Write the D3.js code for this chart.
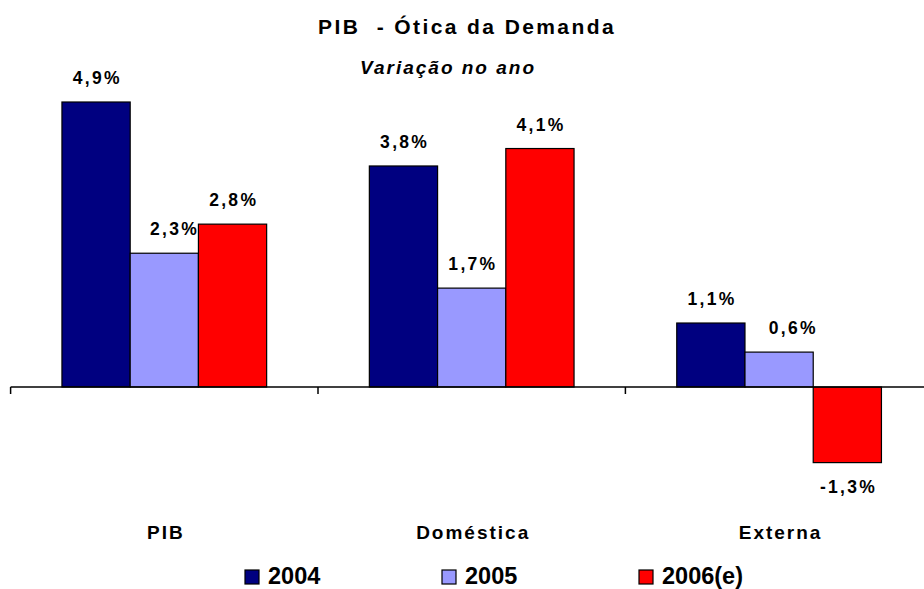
<!DOCTYPE html>
<html>
<head>
<meta charset="utf-8">
<script src="https://cdn.jsdelivr.net/npm/d3@7/dist/d3.min.js"></script>
<style>
  html, body { margin: 0; padding: 0; background: #fff; }
  svg { display: block; font-family: "Liberation Sans", Arial, sans-serif; }
</style>
</head>
<body>
<svg id="chart" width="924" height="589"></svg>
<script>
// ---- data ----
const categories = ["PIB", "Doméstica", "Externa"];
const seriesNames = ["2004", "2005", "2006(e)"];
const values2004 = [4.9, 3.8, 1.1];
const values2005 = [2.3, 1.7, 0.6];
const values2006 = [2.8, 4.1, -1.3];
const valueLabels2004 = ["4,9%", "3,8%", "1,1%"];
const valueLabels2005 = ["2,3%", "1,7%", "0,6%"];
const valueLabels2006 = ["2,8%", "4,1%", "-1,3%"];
const titleText = "PIB  - Ótica da Demanda";
const subtitleText = "Variação no ano";

// ---- styling ----
const colors = {"2004": "#000080", "2005": "#9999FF", "2006(e)": "#FF0000"};
// manual label nudges (layout only)
const labelNudge = {"PIB|2005": 9, "Externa|2005": 13};

const svg = d3.select("#chart");

const seriesValues = [values2004, values2005, values2006];
const seriesLabels = [valueLabels2004, valueLabels2005, valueLabels2006];
const data = [];
categories.forEach((c, i) => {
  seriesNames.forEach((s, j) => {
    data.push({cat: c, series: s, value: seriesValues[j][i], label: seriesLabels[j][i]});
  });
});

const x0 = d3.scaleBand().domain(categories).range([10.6, 932.8]).padding(0);
const x1 = d3.scaleBand().domain(seriesNames).range([51.35, 256.05]).padding(0);
const y = d3.scaleLinear().domain([0, 4.9]).range([387, 102]);

// title
svg.append("text")
  .attr("x", 467).attr("y", 34)
  .attr("text-anchor", "middle")
  .style("font-size", "21px").style("font-weight", "bold")
  .style("letter-spacing", "2.4px")
  .style("white-space", "pre")
  .text(titleText);

svg.append("text")
  .attr("x", 448).attr("y", 74)
  .attr("text-anchor", "middle")
  .style("font-size", "19px").style("font-weight", "bold").style("font-style", "italic")
  .style("letter-spacing", "2px")
  .text(subtitleText);

// bars
svg.append("g").selectAll("rect").data(data).join("rect")
  .attr("x", d => x0(d.cat) + x1(d.series))
  .attr("width", x1.bandwidth())
  .attr("y", d => y(Math.max(0, d.value)))
  .attr("height", d => Math.abs(y(d.value) - y(0)))
  .attr("fill", d => colors[d.series])
  .attr("stroke", "#000").attr("stroke-width", 1.2);

// axis
const axis = d3.axisBottom(x0).tickSize(0).tickFormat("");
const gAxis = svg.append("g").attr("transform", `translate(0,${y(0)})`).call(axis);
gAxis.select(".domain").remove();
svg.append("line")
  .attr("x1", x0.range()[0]).attr("x2", 924)
  .attr("y1", y(0)).attr("y2", y(0))
  .attr("stroke", "#000").attr("stroke-width", 1.5);
svg.append("g").selectAll("line").data(categories).join("line")
  .attr("x1", d => x0(d)).attr("x2", d => x0(d))
  .attr("y1", y(0)).attr("y2", y(0) + 7)
  .attr("stroke", "#000").attr("stroke-width", 1.5);

// value labels
svg.append("g").selectAll("text").data(data).join("text")
  .attr("x", d => x0(d.cat) + x1(d.series) + x1.bandwidth() / 2 + 1.2 + (labelNudge[d.cat + "|" + d.series] || 0))
  .attr("y", d => d.value >= 0 ? y(d.value) - 18 : y(d.value) + 30)
  .attr("text-anchor", "middle")
  .style("font-size", "17.5px").style("font-weight", "bold")
  .style("letter-spacing", "2.3px")
  .text(d => d.label);

// category labels
svg.append("g").selectAll("text").data(categories).join("text")
  .attr("x", d => x0(d) + x0.bandwidth() / 2 + 1.5)
  .attr("y", 539)
  .attr("text-anchor", "middle")
  .style("font-size", "19px").style("font-weight", "bold")
  .style("letter-spacing", "2px")
  .text(d => d);

// legend
const legendX = d3.scalePoint().domain(seriesNames).range([245, 639]);
const lg = svg.append("g").selectAll("g").data(seriesNames).join("g")
  .attr("transform", d => `translate(${legendX(d)},570)`);
lg.append("rect").attr("width", 14).attr("height", 14)
  .attr("fill", d => colors[d]).attr("stroke", "#000").attr("stroke-width", 1.2);
lg.append("text").attr("x", 23).attr("y", 14)
  .style("font-size", "23.5px").style("font-weight", "bold")
  .text(d => d);
</script>
</body>
</html>
